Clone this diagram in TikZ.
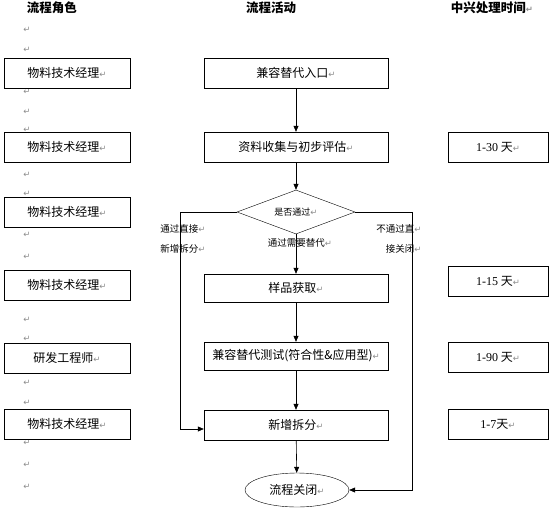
\documentclass[tikz,border=0pt]{standalone}
\usepackage{fontspec}
\setmainfont{Noto Sans CJK SC}
\newfontfamily\symfont{DejaVu Sans}
\newfontfamily\numfont{Liberation Serif}
\usetikzlibrary{arrows.meta,shapes.geometric}
\definecolor{markgray}{HTML}{8C8C8C}
\newcommand{\pmark}{{\symfont\color{markgray}\fontsize{8.5}{8.5}\selectfont ↵}}

\begin{document}
\begin{tikzpicture}[
  x=1pt, y=-1pt,
  >={Triangle[length=6pt,width=5pt]},
  role/.style={draw, fill=white, minimum width=126pt, minimum height=30pt,
    inner sep=0pt, font=\fontsize{12}{14}\selectfont},
  stepbox/.style={draw, fill=white, minimum width=184pt, minimum height=30pt,
    inner sep=0pt, font=\fontsize{12}{14}\selectfont},
  timebox/.style={draw, fill=white, minimum width=100pt, minimum height=30pt,
    inner sep=0pt, font=\fontsize{12}{14}\selectfont},
  head/.style={font=\bfseries\fontsize{12.5}{14}\selectfont},
  lbl/.style={font=\fontsize{9.5}{20}\selectfont, inner sep=0pt},
  flow/.style={->, semithick}
]
\useasboundingbox (0,0) rectangle (554,514);
% column heads
\node[head] (hrole) at (52,8) {流程角色};
\node[head] (hact) at (271,8) {流程活动};
\node[head] (htime) at (492,8) {中兴处理时间\pmark};
% empty paragraph marks
\foreach \y in {30,50,92,112,130,175,194,235,257,298,320,339,383,403,443,465,487}
  \node[inner sep=0pt] at (27,\y) {\pmark};
% roles
\node[role] (r1) at (67,73) {物料技术经理\pmark};
\node[role] (r2) at (67,147) {物料技术经理\pmark};
\node[role] (r3) at (67,212) {物料技术经理\pmark};
\node[role] (r4) at (67,285) {物料技术经理\pmark};
\node[role] (r5) at (67,358) {研发工程师\pmark};
\node[role] (r6) at (67,424) {物料技术经理\pmark};
% activities
\node[stepbox] (entry) at (296,73) {兼容替代入口\pmark};
\node[stepbox] (collect) at (296,147) {资料收集与初步评估\pmark};
\node[draw, diamond, aspect=2.68, minimum width=118pt, minimum height=44pt,
  inner sep=0pt, font=\fontsize{9}{10}\selectfont] (check) at (296,212) {是否通过\pmark};
\node[stepbox, minimum height=28pt] (sample) at (296,288) {样品获取\pmark};
\node[stepbox, minimum height=28pt] (test) at (296,356) {兼容替代测试(符合性\&应用型)\pmark};
\node[stepbox] (split) at (296,425) {新增拆分\pmark};
\node[draw, ellipse, minimum width=104pt, minimum height=34pt, inner sep=0pt,
  font=\fontsize{12}{14}\selectfont] (close) at (297,490) {流程关闭\pmark};
% times
\node[timebox] (t1) at (498,147) {{\numfont 1-30} 天\pmark};
\node[timebox] (t2) at (498,281) {{\numfont 1-15} 天\pmark};
\node[timebox] (t3) at (498,357) {{\numfont 1-90} 天\pmark};
\node[timebox] (t4) at (498,424) {{\numfont 1-7}天\pmark};
% flow
\draw[flow] (entry) -- (collect);
\draw[flow] (collect) -- (check);
\draw[flow] (check) -- (sample);
\draw[flow] (sample) -- (test);
\draw[flow] (test) -- (split);
\draw[flow] (split) -- (close);
\coordinate (leftbend) at (180,212);
\coordinate (rightbend) at (412,212);
\coordinate (splitin) at ([yshift=-4pt]split.west);
\draw[flow] (check.west) -- (leftbend) -- (leftbend |- splitin) -- (splitin);
\draw[flow] (check.east) -- (rightbend) -- (rightbend |- close.east) -- (close.east);
\node[lbl, align=left] (passdirect) at (183,239) {通过直接\pmark\\新增拆分\pmark};
\node[lbl, align=right] (failclose) at (399,239) {不通过直\pmark\\接关闭\pmark};
\node[lbl, font=\fontsize{9.5}{10}\selectfont] (passneed) at (300,243) {通过需要替代\pmark};
\end{tikzpicture}
\end{document}
